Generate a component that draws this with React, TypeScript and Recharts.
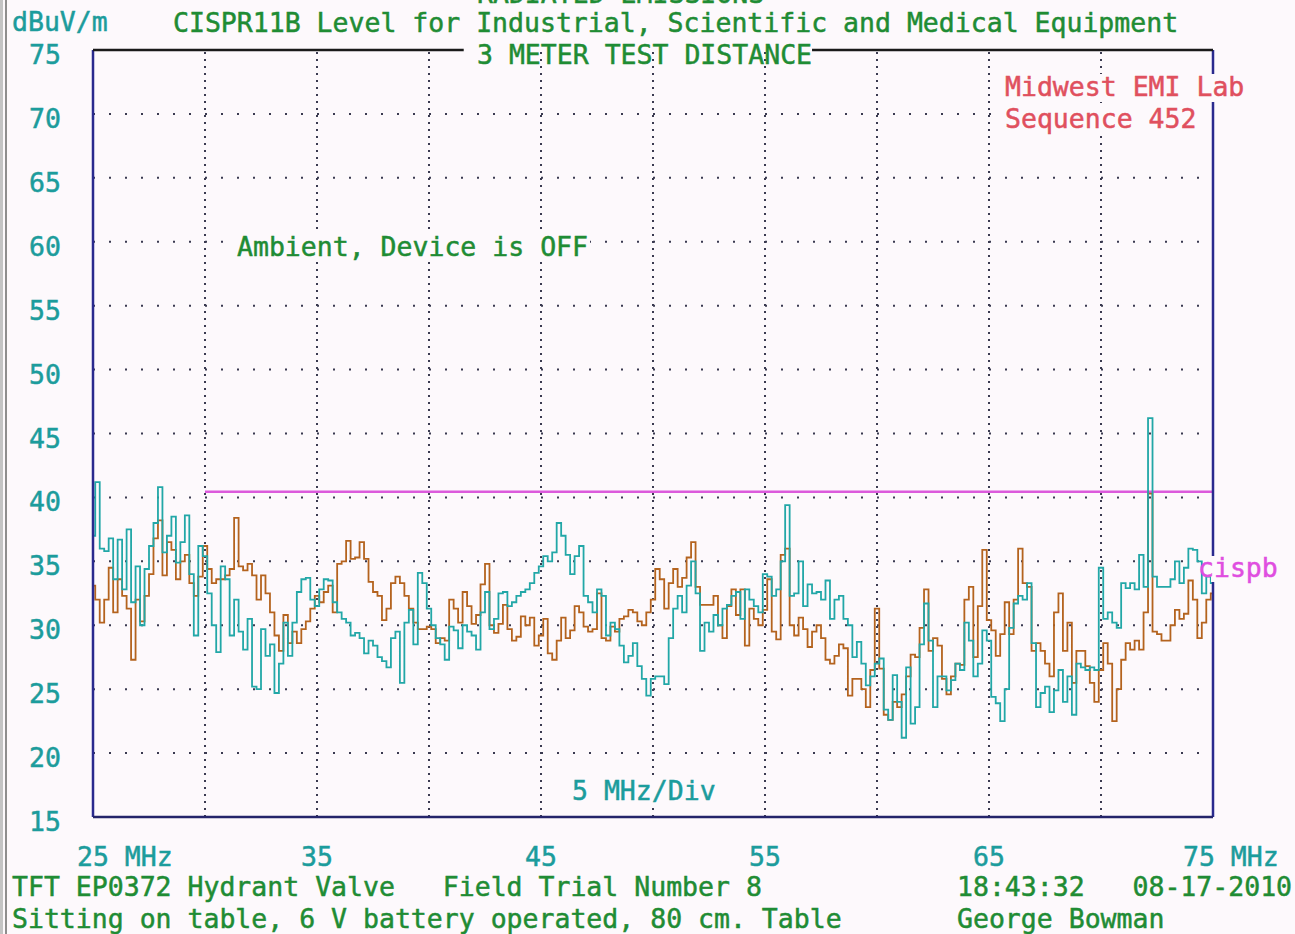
import React from 'react';
import { LineChart, Line, XAxis, YAxis, ReferenceLine } from 'recharts';

// Frequency axis (MHz): samples every 0.2 MHz from 25 MHz
const FREQ_START = 25;
const FREQ_STEP = 0.2;

// Teal trace (dBuV/m)
const tealTrace = [
  37, 41.2, 36.0, 35.8, 36.8, 33.6, 36.7, 32.8, 37.5, 31.8,
  34.6, 30.0, 34.4, 36.2, 38.0, 40.8, 35.7, 37.0, 38.5, 34.9,
  36.5, 38.6, 34.0, 29.2, 36.2, 35.4, 32.5, 30.0, 27.9, 34.6,
  33.6, 29.2, 32.0, 29.5, 28.1, 30.5, 25.2, 25.0, 29.7, 27.6,
  28.5, 24.7, 27.0, 30.2, 27.6, 30.2, 32.6, 33.6, 33.7, 32.0,
  31.5, 32.8, 33.6, 33.5, 31.8, 31.0, 30.5, 30.2, 29.2, 29.4,
  29.0, 27.8, 28.8, 28.4, 27.5, 27.2, 26.7, 29.0, 29.5, 25.5,
  30.2, 31.2, 28.5, 34.1, 33.3, 31.3, 30.0, 29.0, 28.5, 27.3,
  29.9, 29.6, 28.2, 30.0, 29.5, 29.2, 28.1, 31.0, 32.6, 29.7,
  30.5, 32.5, 32.6, 31.5, 31.8, 32.3, 32.6, 32.8, 33.3, 34.1,
  34.6, 35.4, 35.0, 35.7, 38.0, 37.0, 35.5, 34.0, 35.4, 36.2,
  32.3, 31.8, 31.0, 32.8, 32.3, 29.2, 30.2, 29.7, 28.4, 27.1,
  27.6, 28.6, 26.8, 25.8, 24.5, 25.8, 26.0, 26.0, 25.4, 29.0,
  31.3, 32.3, 31.0, 33.1, 35.0, 32.5, 28.0, 30.2, 29.5, 30.8,
  30.0, 31.3, 31.6, 32.3, 32.6, 30.5, 32.8, 32.0, 31.5, 31.0,
  34.0, 33.8, 32.3, 32.8, 35.0, 39.4, 32.3, 32.5, 35.0, 31.5,
  33.2, 32.5, 32.6, 32.0, 33.5, 30.5, 32.0, 32.3, 30.5, 30.0,
  27.5, 28.7, 27.0, 25.3, 26.0, 27.0, 27.4, 23.4, 22.6, 26.1,
  24.0, 21.2, 26.7, 22.3, 23.6, 28.5, 31.7, 28.8, 23.6, 26.0,
  26.0, 24.9, 25.7, 27.0, 26.5, 30.2, 28.8, 26.0, 27.0, 29.6,
  28.8, 24.4, 23.9, 22.5, 25.0, 29.8, 31.7, 32.3, 32.0, 33.3,
  28.6, 23.6, 24.7, 25.2, 23.2, 24.9, 26.5, 24.0, 26.0, 23.0,
  27.0, 26.7, 26.5, 26.7, 26.5, 34.5, 30.5, 31.0, 30.2, 29.8,
  33.3, 32.9, 33.3, 32.8, 35.5, 33.0, 46.2, 33.8, 33.0, 33.0,
  33.0, 33.6, 35.0, 33.3, 34.5, 36.0, 35.9, 35.0, 32.5, 33.8, 33.3,
];

// Brown trace (dBuV/m)
const brownTrace = [
  33.1, 32.0, 30.2, 32.0, 34.5, 31.0, 33.6, 32.3, 31.3, 27.3,
  32.0, 30.3, 32.3, 34.0, 36.8, 38.2, 33.9, 36.5, 35.9, 33.6,
  35.0, 35.5, 33.3, 32.3, 33.8, 36.2, 34.4, 33.3, 33.6, 33.6,
  33.9, 34.4, 38.4, 34.6, 34.3, 34.8, 33.9, 32.0, 33.9, 32.5,
  31.0, 29.2, 28.0, 30.8, 28.6, 29.5, 28.6, 29.7, 30.3, 31.3,
  32.3, 31.8, 32.6, 33.1, 31.0, 34.8, 35.0, 36.6, 35.2, 35.3,
  36.5, 35.2, 33.4, 32.6, 32.3, 30.4, 31.3, 33.3, 33.8, 33.3,
  32.3, 31.3, 30.2, 29.7, 29.7, 29.9, 29.7, 28.6, 29.0, 28.8,
  32.0, 31.3, 30.2, 32.6, 31.5, 30.1, 30.8, 33.2, 34.8, 30.0,
  29.4, 30.1, 31.6, 29.7, 28.8, 29.1, 30.7, 30.0, 30.6, 28.4,
  29.2, 30.5, 27.8, 27.3, 28.8, 30.6, 29.0, 29.6, 31.5, 31.0,
  29.9, 29.5, 29.7, 32.5, 29.0, 28.8, 29.9, 29.5, 30.5, 30.7,
  31.2, 31.0, 30.3, 30.0, 31.0, 32.0, 34.4, 33.6, 31.3, 33.3,
  34.4, 33.0, 33.7, 35.3, 36.5, 33.0, 31.6, 31.6, 31.6, 32.3,
  30.0, 29.0, 31.5, 32.8, 30.8, 32.8, 28.4, 31.3, 30.5, 30.0,
  31.2, 33.6, 29.5, 28.9, 35.5, 36.0, 30.0, 29.2, 30.6, 29.7,
  28.3, 29.5, 30.0, 29.0, 27.3, 27.0, 27.6, 28.5, 28.2, 24.5,
  25.8, 25.8, 25.0, 23.6, 26.5, 31.3, 26.6, 23.0, 22.6, 24.0,
  23.6, 24.6, 26.0, 27.7, 27.5, 29.8, 32.8, 28.0, 29.0, 28.4,
  25.8, 24.6, 26.0, 27.0, 26.9, 32.0, 33.0, 27.5, 31.5, 35.9,
  30.4, 29.6, 27.6, 29.3, 31.8, 29.3, 32.0, 36.0, 33.3, 33.0,
  28.0, 28.6, 28.0, 27.0, 26.0, 31.0, 32.5, 28.0, 30.2, 25.5,
  28.0, 28.0, 26.8, 25.5, 24.0, 26.5, 28.6, 27.0, 22.5, 25.0,
  27.3, 28.6, 28.1, 28.8, 28.1, 31.0, 40.3, 29.5, 29.3, 28.8,
  28.8, 30.0, 31.2, 30.5, 30.9, 33.5, 32.0, 29.0, 30.2, 32.0, 32.5,
];

const xTicks = [25, 35, 45, 55, 65, 75];
const yTicks = [15, 20, 25, 30, 35, 40, 45, 50, 55, 60, 65, 70, 75];
const xGrid = [30, 35, 40, 45, 50, 55, 60, 65, 70];
const yGrid = [20, 25, 30, 35, 40, 45, 50, 55, 60, 65, 70];
const LIMIT_LEVEL = 40.45;
const LIMIT_START = 30;
const TOP_GAP = [41.55, 57.1];

const data = tealTrace.map((t, i) => ({
  f: +(FREQ_START + i * FREQ_STEP).toFixed(1),
  teal: t,
  brown: brownTrace[i],
}));

const MONO = '"DejaVu Sans Mono", monospace';
const FS = 26.5;
const GREEN = '#1f8c34';
const TEALTXT = '#1c9c9c';
const RED = '#e0505e';
const MAGENTA = '#e04ee0';
const BG = '#fdf9fc';
const NAVY = '#2a2a8e';

const YTick = (props: any) => {
  const { y, payload } = props;
  return (
    <text x={61} y={y + 14} textAnchor="end" fill={TEALTXT} stroke={TEALTXT} strokeWidth={0.5} fontSize={FS} fontFamily={MONO}>
      {payload.value}
    </text>
  );
};

const XTick = (props: any) => {
  const { x, payload } = props;
  const v = payload.value;
  const common = { fill: TEALTXT, stroke: TEALTXT, strokeWidth: 0.5, fontSize: FS, fontFamily: MONO, y: 866 };
  if (v === 25) {
    return (
      <text x={x - 16} textAnchor="start" {...common}>
        25 MHz
      </text>
    );
  }
  if (v === 75) {
    return (
      <text x={x - 30} textAnchor="start" {...common}>
        75 MHz
      </text>
    );
  }
  return (
    <text x={x} textAnchor="middle" {...common}>
      {v}
    </text>
  );
};

const T = ({ x, y, c, children }: any) => (
  <text x={x} y={y} fill={c} stroke={c} strokeWidth={0.5} fontSize={FS} fontFamily={MONO} style={{ whiteSpace: 'pre' }}>
    {children}
  </text>
);

export default function App() {
  return (
    <div
      style={{
        position: 'absolute',
        left: 0,
        top: 0,
        width: 1295,
        height: 934,
        background: BG,
        overflow: 'hidden',
      }}
    >
      <LineChart width={1295} height={934} data={data} margin={{ top: 50, right: 82, bottom: 0, left: 0 }}>
        <XAxis
          dataKey="f"
          type="number"
          domain={[25, 75]}
          ticks={xTicks}
          interval={0}
          axisLine={false}
          tickLine={false}
          height={117}
          tick={<XTick />}
        />
        <YAxis
          type="number"
          domain={[15, 75]}
          ticks={yTicks}
          interval={0}
          axisLine={false}
          tickLine={false}
          width={93}
          tick={<YTick />}
          allowDataOverflow
        />
        {xGrid.map((g) => (
          <ReferenceLine key={'vx' + g} x={g} stroke="#3a3a50" strokeWidth={2} strokeDasharray="2 5" />
        ))}
        {yGrid.map((g) => (
          <ReferenceLine key={'hy' + g} y={g} stroke="#3a3a50" strokeWidth={2} strokeDasharray="2 14" />
        ))}
        <ReferenceLine
          segment={[
            { x: LIMIT_START, y: LIMIT_LEVEL },
            { x: 75, y: LIMIT_LEVEL },
          ]}
          stroke="#dc5adc"
          strokeWidth={2.5}
        />
        <Line
          type="step"
          dataKey="brown"
          stroke="#b4631e"
          strokeWidth={1.8}
          dot={false}
          isAnimationActive={false}
        />
        <Line
          type="step"
          dataKey="teal"
          stroke="#22a7a7"
          strokeWidth={1.8}
          dot={false}
          isAnimationActive={false}
        />
        <ReferenceLine x={25} stroke={NAVY} strokeWidth={2.5} />
        <ReferenceLine x={75} stroke={NAVY} strokeWidth={2.5} />
        <ReferenceLine y={15} stroke="#24246a" strokeWidth={2.5} />
        <ReferenceLine
          segment={[
            { x: 25, y: 75 },
            { x: TOP_GAP[0], y: 75 },
          ]}
          stroke="#1a1a1a"
          strokeWidth={2.5}
        />
        <ReferenceLine
          segment={[
            { x: TOP_GAP[1], y: 75 },
            { x: 75, y: 75 },
          ]}
          stroke="#1a1a1a"
          strokeWidth={2.5}
        />
      </LineChart>
      <svg
        width={1295}
        height={934}
        style={{ position: 'absolute', left: 0, top: 0, pointerEvents: 'none' }}
      >
        <rect x={0} y={0} width={3} height={934} fill="#c4c4c4" />
        <line x1={6} y1={0} x2={6} y2={934} stroke="#6a6a6a" strokeWidth={1.5} />
        <rect x={1003} y={74} width={246} height={28} fill={BG} />
        <rect x={1003} y={106} width={196} height={28} fill={BG} />
        <rect x={232} y={232} width={358} height={30} fill={BG} />
        <rect x={568} y={776} width={150} height={30} fill={BG} />
        <rect x={1211} y={556} width={68} height={26} fill={BG} />
        <T x={477} y={3} c={GREEN}>RADIATED EMISSIONS</T>
        <T x={12} y={31} c={TEALTXT}>dBuV/m</T>
        <T x={173} y={32} c={GREEN}>CISPR11B Level for Industrial, Scientific and Medical Equipment</T>
        <T x={477} y={64} c={GREEN}>3 METER TEST DISTANCE</T>
        <T x={1005} y={96} c={RED}>Midwest EMI Lab</T>
        <T x={1005} y={128} c={RED}>Sequence 452</T>
        <T x={237} y={256} c={GREEN}>Ambient, Device is OFF</T>
        <T x={572} y={800} c={TEALTXT}>5 MHz/Div</T>
        <T x={1198} y={577} c={MAGENTA}>cispb</T>
        <T x={12} y={896} c={GREEN}>TFT EP0372 Hydrant Valve   Field Trial Number 8</T>
        <T x={957} y={896} c={GREEN}>18:43:32   08-17-2010</T>
        <T x={12} y={928} c={GREEN}>Sitting on table, 6 V battery operated, 80 cm. Table</T>
        <T x={957} y={928} c={GREEN}>George Bowman</T>
      </svg>
    </div>
  );
}
